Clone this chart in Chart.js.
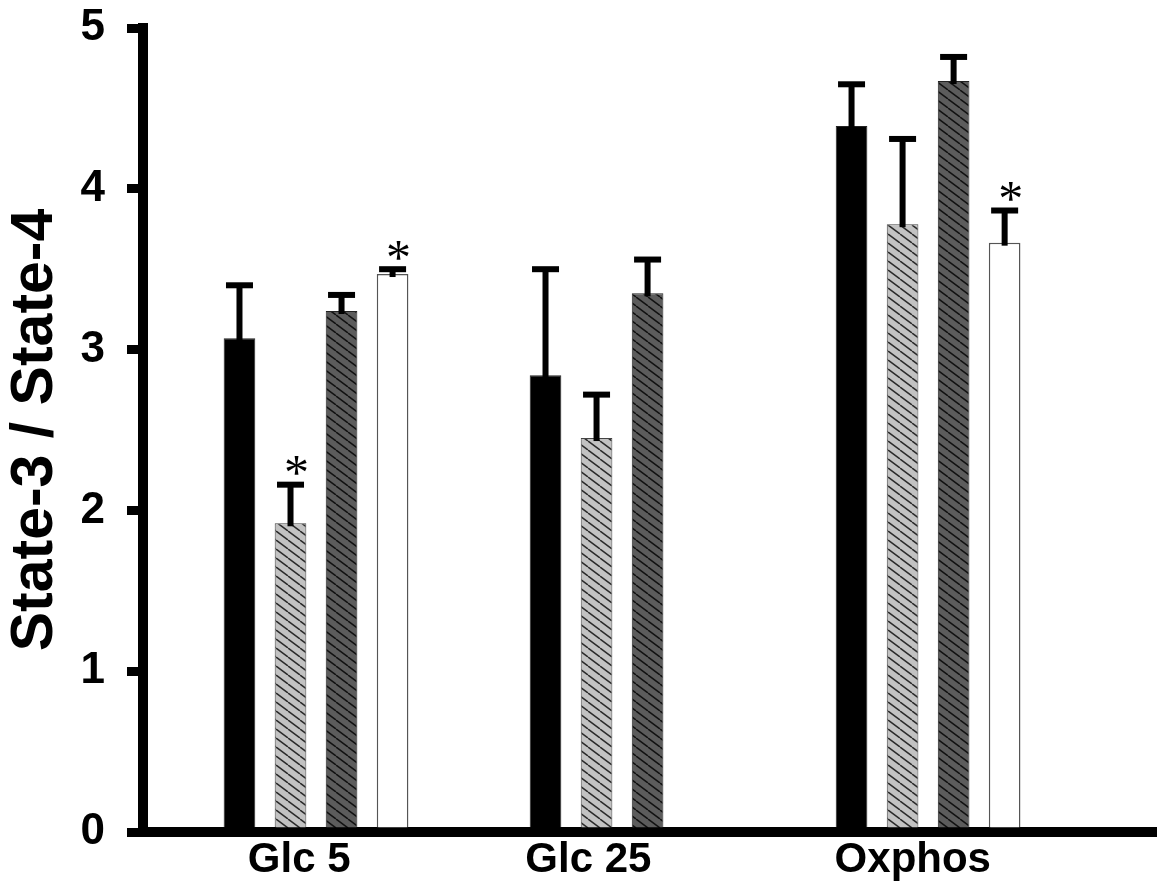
<!DOCTYPE html>
<html>
<head>
<meta charset="utf-8">
<script src="https://cdn.jsdelivr.net/npm/chart.js@4.4.1/dist/chart.umd.min.js"></script>
<style>
    html, body { margin: 0; padding: 0; background: #fff; }
    #wrap { width: 1157px; height: 881px; }
</style>
</head>
<body>
<div id="wrap"><canvas id="chart"></canvas></div>
<script>
// ========================================
// Data
// ========================================
const categories = ['Glc 5', 'Glc 25', 'Oxphos'];
const yTicks = [0, 1, 2, 3, 4, 5];

const blackMeans = [3.07, 2.84, 4.39];
const blackErr   = [0.33, 0.66, 0.26];
const lightMeans = [1.92, 2.45, 3.78];
const lightErr   = [0.24, 0.27, 0.53];
const darkMeans  = [3.24, 3.35, 4.67];
const darkErr    = [0.10, 0.21, 0.15];
const whiteMeans = [3.47, null, 3.665];
const whiteErr   = [0.03, null, 0.20];

// significance marks (*)
const lightStar = [true, false, false];
const whiteStar = [true, false, true];

// ========================================
// Hatch patterns
// ========================================
function hatch(bg, line) {
    const w = 12, h = 9;
    const c = document.createElement('canvas');
    c.width = w; c.height = h;
    const g = c.getContext('2d');
    g.fillStyle = bg;
    g.fillRect(0, 0, w, h);
    g.strokeStyle = line;
    g.lineWidth = 1.5;
    g.beginPath();
    for (let k = -1; k <= 1; k++) {
        g.moveTo(k * w, 0);
        g.lineTo(k * w + w, h);
    }
    g.stroke();
    return g.createPattern(c, 'repeat');
}

const lightFill = hatch('#c2c2c2', '#2a2a2a');
const darkFill = hatch('#5c5c5c', '#111111');

const toPoints = (arr) => arr.map((v, i) => ({ x: i + 1, y: v }));

// ========================================
// Error bars + asterisks
// ========================================
const errorBars = {
    id: 'errorBars',
    afterDatasetsDraw(chart) {
        const { ctx } = chart;
        const yScale = chart.scales.y;
        ctx.save();
        chart.data.datasets.forEach((ds, di) => {
            const meta = chart.getDatasetMeta(di);
            meta.data.forEach((bar, i) => {
                const v = ds.data[i].y;
                const e = ds.errors ? ds.errors[i] : null;
                if (v === null || e === null) return;
                const yTop = yScale.getPixelForValue(v + e);
                ctx.fillStyle = '#000';
                ctx.fillRect(bar.x - 3, yTop, 6, bar.y - yTop + 3);
                ctx.fillRect(bar.x - 13.5, yTop - 3, 27, 6);
                if (ds.stars && ds.stars[i]) {
                    ctx.font = '50px "Liberation Serif", "Times New Roman", serif';
                    ctx.textAlign = 'center';
                    ctx.textBaseline = 'alphabetic';
                    const m = ctx.measureText('*');
                    const cy = yTop - 19;
                    ctx.fillText('*', bar.x + 6, cy + (m.actualBoundingBoxAscent - m.actualBoundingBoxDescent) / 2);
                }
            });
        });
        ctx.restore();
    }
};

// ========================================
// Chart
// ========================================
const font = '"Liberation Sans", Arial, sans-serif';
const xMin = 0.4346;
const xMax = 3.748;

new Chart(document.getElementById('chart'), {
    type: 'bar',
    data: {
        datasets: [
            { label: 'Series 1', data: toPoints(blackMeans), errors: blackErr,
              backgroundColor: '#000', borderColor: '#222', borderWidth: 1 },
            { label: 'Series 2', data: toPoints(lightMeans), errors: lightErr, stars: lightStar,
              backgroundColor: lightFill, borderColor: '#444', borderWidth: 1 },
            { label: 'Series 3', data: toPoints(darkMeans), errors: darkErr,
              backgroundColor: darkFill, borderColor: '#222', borderWidth: 1 },
            { label: 'Series 4', data: toPoints(whiteMeans), errors: whiteErr, stars: whiteStar,
              backgroundColor: '#fff', borderColor: '#555', borderWidth: 1.5 }
        ]
    },
    options: {
        responsive: true,
        maintainAspectRatio: false,
        animation: false,
        categoryPercentage: 0.667,
        barPercentage: 0.62,
        layout: { padding: { top: 28, right: 0, left: 0, bottom: 0 } },
        plugins: {
            legend: { display: false },
            tooltip: { enabled: false }
        },
        scales: {
            x: {
                type: 'linear',
                display: false,
                offset: false,
                min: xMin,
                max: xMax,
                afterBuildTicks: (s) => { s.ticks = categories.map((c, i) => ({ value: i + 1 })); }
            },
            x2: {
                type: 'linear',
                position: 'bottom',
                offset: false,
                min: xMin,
                max: xMax,
                afterBuildTicks: (s) => {
                    const shift = [-0.055, -0.11, -0.05];
                    s.ticks = categories.map((c, i) => ({ value: i + 1 + shift[i] }));
                },
                afterFit: (s) => { s.height = 49; s.paddingLeft = 0; s.paddingRight = 0; },
                grid: { display: false, drawTicks: false },
                border: { display: true, color: '#000', width: 10 },
                ticks: {
                    color: '#000',
                    padding: 3,
                    maxRotation: 0,
                    autoSkip: false,
                    font: { family: font, size: 42, weight: 'bold' },
                    callback: (v, i) => categories[i]
                }
            },
            y: {
                position: 'left',
                min: yTicks[0],
                max: yTicks[yTicks.length - 1],
                afterBuildTicks: (s) => { s.ticks = yTicks.map(v => ({ value: v })); },
                afterFit: (s) => { s.width = 143; s.paddingTop = 0; s.paddingBottom = 0; },
                grid: {
                    drawOnChartArea: false,
                    color: '#000',
                    lineWidth: 9,
                    tickColor: '#000',
                    tickLength: 16,
                    tickWidth: 9
                },
                border: { display: true, color: '#000', width: 10 },
                ticks: {
                    color: '#000',
                    padding: 22,
                    font: { family: font, size: 44, weight: 'bold' }
                },
                title: {
                    display: true,
                    text: 'State-3 / State-4',
                    color: '#000',
                    padding: { top: 0, bottom: 0 },
                    font: { family: font, size: 59, weight: 'bold' }
                }
            }
        }
    },
    plugins: [errorBars]
});
</script>
</body>
</html>
